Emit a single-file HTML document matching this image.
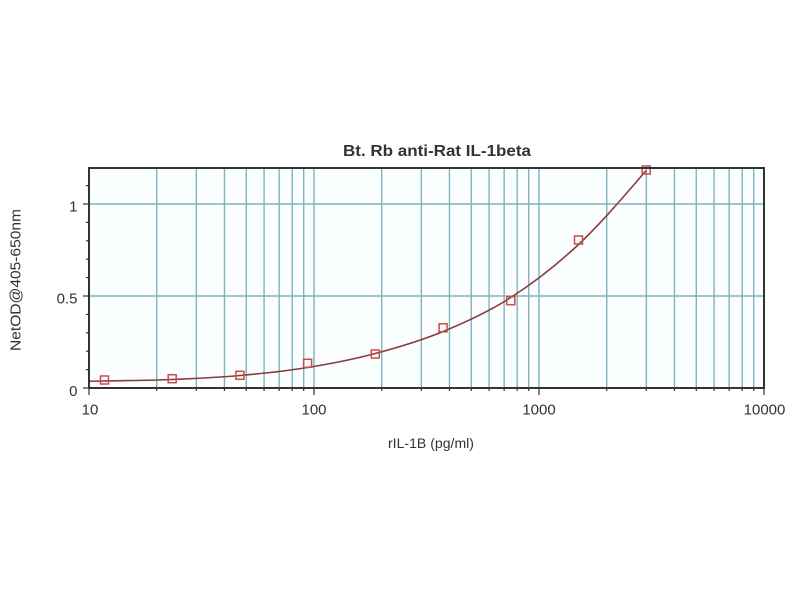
<!DOCTYPE html>
<html>
<head>
<meta charset="utf-8">
<style>
  html,body{margin:0;padding:0;background:#ffffff;}
  svg{display:block;}
  text{font-family:"Liberation Sans", Arial, sans-serif;fill:#333;}
</style>
</head>
<body>
<svg width="800" height="600" viewBox="0 0 800 600" xmlns="http://www.w3.org/2000/svg">
  <rect x="0" y="0" width="800" height="600" fill="#ffffff"/>
  <defs>
    <clipPath id="plot"><rect x="89" y="167" width="675" height="221"/></clipPath>
  </defs>
  <rect x="89" y="168" width="675" height="220" fill="#fbfefe"/>

  <!-- vertical gridlines -->
  <g stroke="#7fb3c0" stroke-width="1.4" fill="none">
    <line x1="156.73" y1="168" x2="156.73" y2="388"/>
    <line x1="196.35" y1="168" x2="196.35" y2="388"/>
    <line x1="224.46" y1="168" x2="224.46" y2="388"/>
    <line x1="246.27" y1="168" x2="246.27" y2="388"/>
    <line x1="264.08" y1="168" x2="264.08" y2="388"/>
    <line x1="279.15" y1="168" x2="279.15" y2="388"/>
    <line x1="292.2" y1="168" x2="292.2" y2="388"/>
    <line x1="303.7" y1="168" x2="303.7" y2="388"/>
    <line x1="314" y1="168" x2="314" y2="388"/>
    <line x1="381.73" y1="168" x2="381.73" y2="388"/>
    <line x1="421.35" y1="168" x2="421.35" y2="388"/>
    <line x1="449.46" y1="168" x2="449.46" y2="388"/>
    <line x1="471.27" y1="168" x2="471.27" y2="388"/>
    <line x1="489.08" y1="168" x2="489.08" y2="388"/>
    <line x1="504.15" y1="168" x2="504.15" y2="388"/>
    <line x1="517.2" y1="168" x2="517.2" y2="388"/>
    <line x1="528.7" y1="168" x2="528.7" y2="388"/>
    <line x1="539" y1="168" x2="539" y2="388"/>
    <line x1="606.73" y1="168" x2="606.73" y2="388"/>
    <line x1="646.35" y1="168" x2="646.35" y2="388"/>
    <line x1="674.46" y1="168" x2="674.46" y2="388"/>
    <line x1="696.27" y1="168" x2="696.27" y2="388"/>
    <line x1="714.08" y1="168" x2="714.08" y2="388"/>
    <line x1="729.15" y1="168" x2="729.15" y2="388"/>
    <line x1="742.2" y1="168" x2="742.2" y2="388"/>
    <line x1="753.7" y1="168" x2="753.7" y2="388"/>
    <line x1="89" y1="204" x2="764" y2="204"/>
    <line x1="89" y1="296" x2="764" y2="296"/>
  </g>

  <!-- fitted curve -->
  <g clip-path="url(#plot)">
    <path fill="none" stroke="#8a3b3b" stroke-width="1.6"
      d="M36.8,382 C59.37,381.75 81.93,381.42 104.5,381
         C127.07,380.58 149.63,380.42 172.2,379.5
         C194.77,378.58 217.33,377.5 239.9,375.5
         C262.47,373.5 285.03,371.17 307.6,367.5
         C330.17,363.83 352.73,359.5 375.3,353.5
         C397.87,347.5 420.53,340.83 443.1,331.5
         C465.67,322.17 488.23,312 510.8,297.5
         C533.37,283 555.93,265.67 578.5,244.5
         C601.07,223.33 623.63,196.58 646.2,170.5"/>
  </g>

  <!-- markers -->
  <g fill="none" stroke="#cc4a4a" stroke-width="1.5">
    <rect x="100.5" y="376" width="8" height="8"/>
    <rect x="168.2" y="374.7" width="8" height="8"/>
    <rect x="235.9" y="371.3" width="8" height="8"/>
    <rect x="303.6" y="359.3" width="8" height="8"/>
    <rect x="371.3" y="350" width="8" height="8"/>
    <rect x="439.1" y="323.8" width="8" height="8"/>
    <rect x="506.8" y="296.7" width="8" height="8"/>
    <rect x="574.5" y="236" width="8" height="8"/>
    <rect x="642.2" y="166" width="8" height="8"/>
  </g>

  <!-- frame -->
  <rect x="89" y="168" width="675" height="220" fill="none" stroke="#333" stroke-width="2"/>

  <!-- y ticks -->
  <g stroke="#333" stroke-width="1.2">
    <line x1="83" y1="388" x2="89" y2="388"/>
    <line x1="83" y1="296" x2="89" y2="296"/>
    <line x1="83" y1="204" x2="89" y2="204"/>
    <line x1="86" y1="369.6" x2="89" y2="369.6"/>
    <line x1="86" y1="351.2" x2="89" y2="351.2"/>
    <line x1="86" y1="332.8" x2="89" y2="332.8"/>
    <line x1="86" y1="314.4" x2="89" y2="314.4"/>
    <line x1="86" y1="277.6" x2="89" y2="277.6"/>
    <line x1="86" y1="259.2" x2="89" y2="259.2"/>
    <line x1="86" y1="240.8" x2="89" y2="240.8"/>
    <line x1="86" y1="222.4" x2="89" y2="222.4"/>
    <line x1="86" y1="185.6" x2="89" y2="185.6"/>
  </g>

  <!-- x ticks -->
  <g stroke="#333" stroke-width="1.2">
    <line x1="89" y1="388" x2="89" y2="395"/>
    <line x1="314" y1="388" x2="314" y2="395"/>
    <line x1="539" y1="388" x2="539" y2="395"/>
    <line x1="764" y1="388" x2="764" y2="395"/>
    <line x1="156.73" y1="388" x2="156.73" y2="391"/>
    <line x1="196.35" y1="388" x2="196.35" y2="391"/>
    <line x1="224.46" y1="388" x2="224.46" y2="391"/>
    <line x1="246.27" y1="388" x2="246.27" y2="391"/>
    <line x1="264.08" y1="388" x2="264.08" y2="391"/>
    <line x1="279.15" y1="388" x2="279.15" y2="391"/>
    <line x1="292.2" y1="388" x2="292.2" y2="391"/>
    <line x1="303.7" y1="388" x2="303.7" y2="391"/>
    <line x1="381.73" y1="388" x2="381.73" y2="391"/>
    <line x1="421.35" y1="388" x2="421.35" y2="391"/>
    <line x1="449.46" y1="388" x2="449.46" y2="391"/>
    <line x1="471.27" y1="388" x2="471.27" y2="391"/>
    <line x1="489.08" y1="388" x2="489.08" y2="391"/>
    <line x1="504.15" y1="388" x2="504.15" y2="391"/>
    <line x1="517.2" y1="388" x2="517.2" y2="391"/>
    <line x1="528.7" y1="388" x2="528.7" y2="391"/>
    <line x1="606.73" y1="388" x2="606.73" y2="391"/>
    <line x1="646.35" y1="388" x2="646.35" y2="391"/>
    <line x1="674.46" y1="388" x2="674.46" y2="391"/>
    <line x1="696.27" y1="388" x2="696.27" y2="391"/>
    <line x1="714.08" y1="388" x2="714.08" y2="391"/>
    <line x1="729.15" y1="388" x2="729.15" y2="391"/>
    <line x1="742.2" y1="388" x2="742.2" y2="391"/>
    <line x1="753.7" y1="388" x2="753.7" y2="391"/>
  </g>

  <!-- y tick labels -->
  <g font-size="15" text-anchor="end">
    <text x="77.5" y="211.5">1</text>
    <text x="77.5" y="303.5">0.5</text>
    <text x="77.5" y="396">0</text>
  </g>

  <!-- x tick labels -->
  <g font-size="15" text-anchor="middle">
    <text x="90" y="414.5">10</text>
    <text x="314" y="414.5">100</text>
    <text x="539" y="414.5">1000</text>
    <text x="764.5" y="414.5">10000</text>
  </g>

  <!-- title -->
  <text x="437" y="156" font-size="16" font-weight="bold" text-anchor="middle" fill="#222" textLength="188" lengthAdjust="spacingAndGlyphs">Bt. Rb anti-Rat IL-1beta</text>

  <!-- x axis title -->
  <text x="431" y="448" font-size="14" text-anchor="middle" textLength="86" lengthAdjust="spacingAndGlyphs">rIL-1B (pg/ml)</text>

  <!-- y axis title -->
  <text x="0" y="0" font-size="15" text-anchor="middle" textLength="142" lengthAdjust="spacingAndGlyphs" transform="translate(20.5,280) rotate(-90)">NetOD@405-650nm</text>
</svg>
</body>
</html>
